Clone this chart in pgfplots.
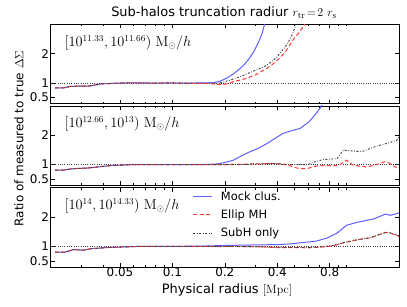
\documentclass[border=0pt]{standalone}
\usepackage[no-math]{fontspec}
\setmainfont{DejaVu Sans}
\usepackage{pgfplots}
\pgfplotsset{compat=1.18}
\definecolor{mblue}{RGB}{95,95,255}
\definecolor{mred}{RGB}{255,50,50}
\definecolor{mblack}{RGB}{60,60,60}
\pgfplotsset{
   every axis/.append style={
   xmin=0.02, xmax=2, ymin=0.3, ymax=3,
   width=348.3bp, height=79.2bp, scale only axis,
   anchor=north west,
   xtick={0.05,0.1,0.2,0.4,0.8},
   minor xtick={0.03,0.04,0.06,0.07,0.08,0.09,0.3,0.5,0.6,0.7,0.9,1,2},
   ytick={0.5,1,2}, yticklabels={0.5,1,2},
   tick align=inside, major tick length=4bp, minor tick length=2bp,
   xtick pos=both, ytick pos=both,
   tick style={black, line width=0.6bp},
   axis line style={line width=0.8bp},
   every tick label/.append style={font=\fontsize{12}{13}\selectfont},
   yticklabel style={inner sep=1.5bp},
   xticklabel style={inner sep=1bp},
 },
}
\tikzset{
 mybl/.style={mblue, line width=1bp},
 myrd/.style={mred, line width=1bp, dash pattern=on 4bp off 2.5bp},
 mybk/.style={mblack, line width=0.9bp, dash pattern=on 2bp off 1.6bp on 0.7bp off 1.6bp},
 myref/.style={black!75, line width=0.6bp, dash pattern=on 0.7bp off 1.6bp},
 myann/.style={anchor=west, font=\fontsize{13.5}{15}\selectfont},
}
\begin{document}
\begin{tikzpicture}
\useasboundingbox (0,0) rectangle (407bp,-307bp);
% ---------- panel 1
\begin{axis}[xmode=log, at={(50.7bp,-24.3bp)}, xticklabels={}]
\addplot[myref] coordinates {(0.02,1) (2,1)};
\addplot[mybl] coordinates {
(0.0212,0.83) (0.0236,0.83) (0.0258,0.88) (0.028,0.89) (0.031,0.89) (0.0337,0.90)
(0.0365,0.94) (0.039,0.97) (0.043,0.98) (0.047,0.99) (0.052,1.0) (0.06,1.0)
(0.07,1.0) (0.08,0.995) (0.09,1.0) (0.10,1.0) (0.12,0.995) (0.14,1.0)
(0.15,1.0) (0.171,1.01) (0.185,1.05) (0.196,1.11) (0.21,1.2) (0.224,1.31)
(0.24,1.45) (0.256,1.6) (0.275,1.82) (0.292,2.05) (0.31,2.35) (0.327,2.68) (0.34,3.05)};
\addplot[myrd] coordinates {
(0.0212,0.83) (0.0236,0.83) (0.0258,0.88) (0.028,0.89) (0.031,0.89) (0.0337,0.90)
(0.0365,0.94) (0.039,0.97) (0.043,0.98) (0.047,0.99) (0.052,1.0) (0.06,1.0)
(0.07,1.0) (0.08,0.995) (0.09,1.0) (0.10,1.0) (0.12,0.99) (0.14,0.99)
(0.15,0.99) (0.17,0.97) (0.185,0.95) (0.196,0.95) (0.21,0.98) (0.224,1.05)
(0.245,1.1) (0.267,1.16) (0.30,1.28) (0.333,1.43) (0.37,1.6) (0.41,1.83)
(0.45,2.1) (0.49,2.45) (0.53,2.7) (0.58,3.02)};
\addplot[mybk] coordinates {
(0.0212,0.83) (0.0236,0.83) (0.0258,0.88) (0.028,0.89) (0.031,0.89) (0.0337,0.90)
(0.0365,0.94) (0.039,0.97) (0.043,0.98) (0.047,0.99) (0.052,1.0) (0.06,1.0)
(0.07,1.0) (0.08,0.995) (0.09,1.0) (0.10,1.0) (0.12,0.995) (0.14,1.0)
(0.15,1.0) (0.18,1.0) (0.196,1.03) (0.22,1.12) (0.256,1.26) (0.29,1.4)
(0.333,1.54) (0.37,1.72) (0.398,1.88) (0.45,2.28) (0.48,2.55) (0.506,2.9) (0.515,3.02)};
\node[myann] at (rel axis cs:0.03,0.77) {$[10^{11.33},10^{11.66})~\mathrm{M}_\odot/h$};
\end{axis}
% ---------- panel 2
\begin{axis}[xmode=log, at={(50.7bp,-105.9bp)}, xticklabels={}]
\addplot[myref] coordinates {(0.02,1) (2,1)};
\addplot[mybl] coordinates {
(0.0212,0.81) (0.0236,0.81) (0.026,0.85) (0.029,0.87) (0.032,0.88) (0.035,0.90)
(0.04,0.94) (0.045,0.97) (0.05,0.98) (0.06,1.0) (0.07,1.0) (0.08,0.995)
(0.09,1.0) (0.10,1.0) (0.12,1.0) (0.15,1.0) (0.18,1.02) (0.20,1.07) (0.224,1.15)
(0.25,1.3) (0.27,1.40) (0.31,1.55) (0.35,1.72) (0.39,1.9) (0.43,2.06)
(0.48,2.15) (0.54,2.23) (0.61,2.46) (0.66,2.7) (0.71,2.95) (0.725,3.05)};
\addplot[myrd] coordinates {
(0.0212,0.81) (0.0236,0.81) (0.026,0.85) (0.029,0.87) (0.032,0.88) (0.035,0.90)
(0.04,0.94) (0.045,0.97) (0.05,0.98) (0.06,1.0) (0.07,1.0) (0.08,0.995)
(0.09,1.0) (0.10,1.0) (0.12,1.0) (0.15,1.0) (0.2,1.0) (0.25,1.01) (0.3,1.03)
(0.33,1.02) (0.36,1.04) (0.40,1.03) (0.44,1.0) (0.48,0.95) (0.52,0.88)
(0.56,0.86) (0.60,0.87) (0.64,0.92) (0.67,0.95) (0.75,0.97) (0.84,0.95)
(0.92,1.0) (1.0,1.15) (1.09,0.98) (1.2,0.94) (1.31,0.92) (1.49,1.0)
(1.66,1.1) (1.76,1.05) (1.84,0.97) (2.0,0.85)};
\addplot[mybk] coordinates {
(0.0212,0.81) (0.0236,0.81) (0.026,0.85) (0.029,0.87) (0.032,0.88) (0.035,0.90)
(0.04,0.94) (0.045,0.97) (0.05,0.98) (0.06,1.0) (0.07,1.0) (0.08,0.995)
(0.09,1.0) (0.10,1.0) (0.12,1.0) (0.15,1.0) (0.2,1.0) (0.25,1.0) (0.3,1.02)
(0.35,1.03) (0.4,1.03) (0.45,1.01) (0.5,1.0) (0.55,1.0) (0.60,1.0)
(0.64,1.07) (0.73,1.17) (0.88,1.2) (0.92,1.35) (0.96,1.49) (1.05,1.47)
(1.15,1.45) (1.25,1.46) (1.37,1.55) (1.49,1.63) (1.70,1.72) (1.94,1.83) (2.0,1.95)};
\node[myann] at (rel axis cs:0.03,0.77) {$[10^{12.66},10^{13})~\mathrm{M}_\odot/h$};
\end{axis}
% ---------- panel 3
\begin{axis}[xmode=log, at={(50.7bp,-187.7bp)},
  xticklabels={0.05,0.1,0.2,0.4,0.8},
  legend style={draw=none, fill=none, at={(rel axis cs:0.405,0.99)}, anchor=north west,
    font=\fontsize{11.5}{13}\selectfont, row sep=4bp, column sep=6bp, inner sep=1bp},
  legend image code/.code={\draw[#1] (0bp,0bp) -- (19bp,0bp);},
  legend cell align=left]
\addplot[myref, forget plot] coordinates {(0.02,1) (2,1)};
\addplot[mybl] coordinates {
(0.0212,0.80) (0.0241,0.80) (0.027,0.89) (0.031,0.87) (0.034,0.92) (0.042,0.96)
(0.052,0.98) (0.065,1.0) (0.08,1.0) (0.1,1.0) (0.15,1.01) (0.2,1.03) (0.3,1.05)
(0.4,1.06) (0.47,1.08) (0.54,1.12) (0.67,1.18) (0.77,1.28) (0.88,1.45)
(1.0,1.72) (1.15,1.82) (1.44,1.94) (1.67,2.10) (1.79,2.06) (2.0,2.14)};
\addlegendentry{Mock clus.}
\addplot[myrd] coordinates {
(0.0212,0.80) (0.0241,0.80) (0.027,0.89) (0.031,0.87) (0.034,0.92) (0.042,0.96)
(0.052,0.98) (0.065,1.0) (0.08,1.0) (0.1,1.0) (0.15,1.0) (0.2,1.0) (0.3,0.99)
(0.4,0.96) (0.5,0.96) (0.6,0.95) (0.7,0.97) (0.84,1.02) (0.96,1.12) (1.15,1.23)
(1.37,1.29) (1.67,1.48) (1.79,1.45) (2.0,1.34)};
\addlegendentry{Ellip MH}
\addplot[mybk] coordinates {
(0.0212,0.80) (0.0241,0.80) (0.027,0.89) (0.031,0.87) (0.034,0.92) (0.042,0.96)
(0.052,0.98) (0.065,1.0) (0.08,1.0) (0.1,1.0) (0.15,1.0) (0.2,1.0) (0.3,0.99)
(0.4,0.97) (0.5,0.96) (0.6,0.96) (0.7,0.98) (0.84,1.03) (0.96,1.13) (1.15,1.22)
(1.37,1.30) (1.67,1.47) (1.79,1.46) (2.0,1.36)};
\addlegendentry{SubH only}
\node[myann] at (rel axis cs:0.03,0.77) {$[10^{14},10^{14.33})~\mathrm{M}_\odot/h$};
\end{axis}
\node[font=\fontsize{13}{15}\selectfont] at (224bp,-12.5bp) {Sub-halos truncation radiur $r_{\rm tr}\!=\!2~r_{\rm s}$};
\node[font=\fontsize{13}{15}\selectfont] at (227bp,-290bp) {Physical radius $[\mathrm{Mpc}]$};
\node[rotate=90, font=\fontsize{12}{14}\selectfont] at (19bp,-138.5bp) {Ratio of measured to true $\Delta\Sigma$};
\end{tikzpicture}
\end{document}
